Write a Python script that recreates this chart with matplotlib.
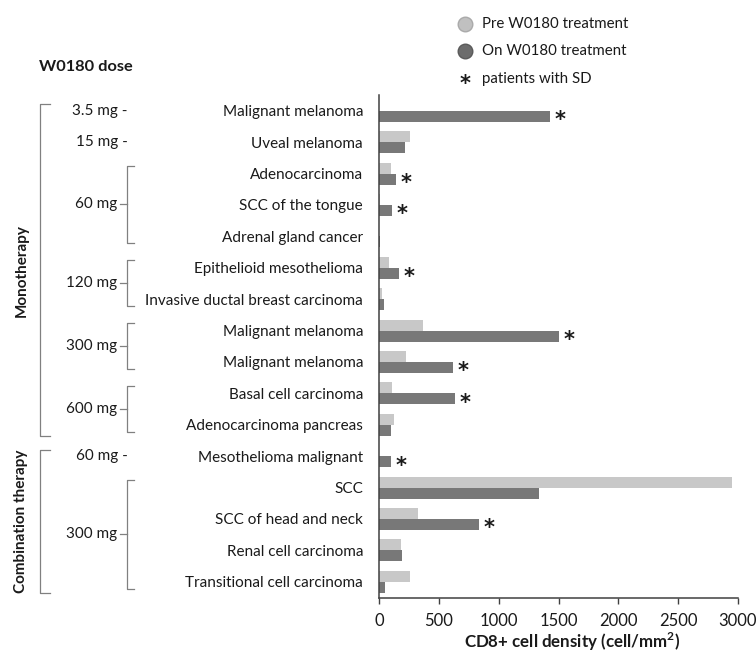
import matplotlib
matplotlib.use("Agg")
import matplotlib.pyplot as plt
import matplotlib.transforms as mtransforms
import numpy as np

plt.rcParams['font.family'] = ['Lato', 'DejaVu Sans']

categories = ["Malignant melanoma", "Uveal melanoma", "Adenocarcinoma", "SCC of the tongue",
              "Adrenal gland cancer", "Epithelioid mesothelioma", "Invasive ductal breast carcinoma",
              "Malignant melanoma", "Malignant melanoma", "Basal cell carcinoma",
              "Adenocarcinoma pancreas", "Mesothelioma malignant", "SCC", "SCC of head and neck",
              "Renal cell carcinoma", "Transitional cell carcinoma"]
pre_values = [0, 259, 100, 10, 0, 84, 25, 370, 226, 111, 128, 0, 2949, 326, 187, 257]
on_values = [1430, 215, 140, 111, 8, 170, 39, 1508, 616, 638, 100, 100, 1338, 839, 190, 50]
stable_disease = [0, 2, 3, 5, 7, 8, 9, 11, 13]

# (dose, first row, last row)
dose_groups = [("3.5 mg", 0, 0), ("15 mg", 1, 1), ("60 mg", 2, 4), ("120 mg", 5, 6),
               ("300 mg", 7, 8), ("600 mg", 9, 10), ("60 mg", 11, 11), ("300 mg", 12, 15)]
therapy_groups = [("Monotherapy", 0, 10), ("Combination therapy", 11, 15)]

xticks = [0, 500, 1000, 1500, 2000, 2500, 3000]

W, H = 756, 654
fig = plt.figure(figsize=(W / 100, H / 100), dpi=100)
ax = fig.add_axes([379 / W, (H - 597.5) / H, (738 - 379) / W, (597.5 - 95) / H])

pre_color = '#c8c8c8'
on_color = '#787878'
text_color = '#1a1a1a'
bracket_color = '#808080'
fs = 11

y = np.arange(len(categories))
bh = 0.35
ax.barh(y - bh / 2, pre_values, height=bh, color=pre_color)
ax.barh(y + bh / 2, on_values, height=bh, color=on_color)

for i in stable_disease:
    ax.annotate("*", (on_values[i], y[i] + bh / 2), xytext=(10, -4), textcoords='offset pixels',
                ha='center', va='center', fontsize=15, fontweight='bold', color=text_color,
                family='DejaVu Sans')

ax.set_xlim(0, 3000)
ax.set_ylim(len(categories) - 0.5, -0.5)
ax.set_xticks(xticks)
ax.set_xticklabels([str(t) for t in xticks], fontsize=12, color=text_color)
ax.set_yticks(y)
ax.set_yticklabels(categories, fontsize=fs, color=text_color)
ax.tick_params(axis='y', length=0, pad=11.5)
ax.tick_params(axis='x', direction='out', length=4, width=1, color='#404040', pad=7)
for s in ['top', 'right']:
    ax.spines[s].set_visible(False)
for s in ['left', 'bottom']:
    ax.spines[s].set_color('#404040')
    ax.spines[s].set_linewidth(1.1)
ax.set_xlabel("CD8+ cell density (cell/mm$^\\mathregular{2}$)", fontsize=12.2, fontweight='bold',
              color=text_color, va='center')
ax.xaxis.set_label_coords((572 - 379) / (738 - 379), -(642 - 597.5) / (597.5 - 95))

# left side annotations: x in figure pixels, y in data rows
tr = mtransforms.blended_transform_factory(
    mtransforms.Affine2D().scale(1 / W, 1) + fig.transFigure, ax.transData)

def line(xs, ys):
    ax.plot(xs, ys, color=bracket_color, lw=0.9, transform=tr, clip_on=False)

for dose, a, b in dose_groups:
    if a == b:
        ax.text(128, a, f"{dose} -", transform=tr, ha='right', va='center',
                fontsize=fs, color=text_color)
    else:
        top, bot = a - 0.25, b + 0.22
        mid = (top + bot) / 2
        line([134, 127, 127, 134], [top, top, bot, bot])
        line([120, 127], [mid, mid])
        ax.text(117, mid, dose, transform=tr, ha='right', va='center',
                fontsize=fs, color=text_color)

for name, a, b in therapy_groups:
    top, bot = a - 0.2, b + 0.35
    line([50, 40, 40, 50], [top, top, bot, bot])
    ax.text(21.5, (top + bot) / 2, name, transform=tr, ha='center', va='center', rotation=90,
            fontsize=fs, fontweight='bold', color=text_color)

fig.text(39 / W, 1 - 67 / H, "W0180 dose", ha='left', va='center', fontsize=11.8,
         fontweight='bold', color=text_color)

# legend
fig.lines.append(plt.Line2D([465 / W], [1 - 24 / H], marker='o', markersize=10.5,
                            markerfacecolor='#c0c0c0', markeredgecolor='#aaaaaa',
                            transform=fig.transFigure))
fig.lines.append(plt.Line2D([465 / W], [1 - 51 / H], marker='o', markersize=10.5,
                            markerfacecolor='#6c6c6c', markeredgecolor='#5a5a5a',
                            transform=fig.transFigure))
fig.text(465 / W, 1 - 84 / H, "*", ha='center', va='center', fontsize=15, fontweight='bold',
         color=text_color, family='DejaVu Sans')
for ty, label in [(24, "Pre W0180 treatment"), (51, "On W0180 treatment"), (79, "patients with SD")]:
    fig.text(482 / W, 1 - ty / H, label, ha='left', va='center', fontsize=10.8, color=text_color)

fig.savefig("out.png", dpi=100)
